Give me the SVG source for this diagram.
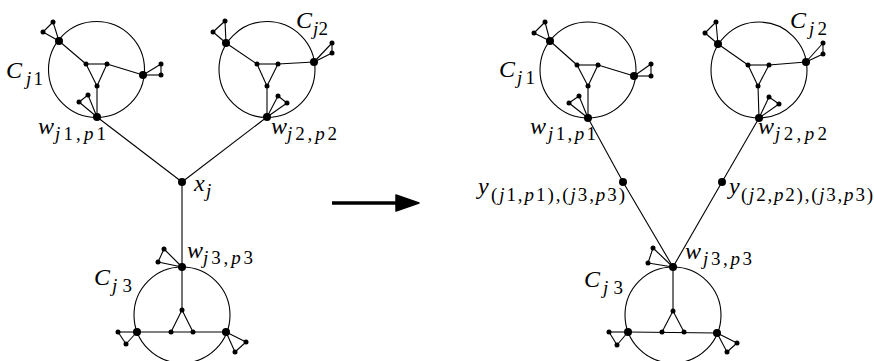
<svg xmlns="http://www.w3.org/2000/svg" width="874" height="361" viewBox="0 0 874 361">
<style>
.c{fill:none;stroke:#000;stroke-width:1.1}
.e line{stroke:#000;stroke-width:1.1}
.b{fill:#000}
.m{font-family:"Liberation Serif",serif;font-style:italic;font-size:24px;fill:#000}
.s{font-family:"Liberation Serif",serif;font-style:italic;font-size:19px;fill:#000}
.u{font-style:normal}
</style>
<rect width="874" height="361" fill="#fff"/>

<!-- cycle circles -->
<g id="cycles">
<circle class="c" cx="96.5" cy="69.5" r="48"/>
<circle class="c" cx="267" cy="69.5" r="48"/>
<circle class="c" cx="182" cy="315" r="48"/>
<circle class="c" cx="588" cy="70" r="48"/>
<circle class="c" cx="759" cy="70" r="48"/>
<circle class="c" cx="673" cy="315" r="48"/>
</g>

<g id="connectors" class="e">
<!-- left module 1 -->
<line x1="59" y1="41" x2="86" y2="64"/><line x1="86" y1="64" x2="107" y2="64"/><line x1="107" y1="64" x2="97" y2="86"/><line x1="97" y1="86" x2="86" y2="64"/>
<line x1="107" y1="64" x2="143" y2="75"/><line x1="97" y1="86" x2="97" y2="117"/>
<line x1="59" y1="41" x2="43" y2="32"/><line x1="59" y1="41" x2="53" y2="22"/><line x1="43" y1="32" x2="53" y2="22"/>
<line x1="143" y1="75" x2="161" y2="64"/><line x1="143" y1="75" x2="161" y2="75"/><line x1="161" y1="64" x2="161" y2="75"/>
<line x1="97" y1="117" x2="79" y2="102"/><line x1="97" y1="117" x2="88" y2="95"/><line x1="79" y1="102" x2="88" y2="95"/>
<!-- left module 2 -->
<line x1="226" y1="43" x2="257" y2="64"/><line x1="257" y1="64" x2="278" y2="64"/><line x1="278" y1="64" x2="267" y2="86"/><line x1="267" y1="86" x2="257" y2="64"/>
<line x1="278" y1="64" x2="314" y2="62"/><line x1="267" y1="86" x2="267" y2="117"/>
<line x1="226" y1="43" x2="213" y2="32"/><line x1="226" y1="43" x2="225" y2="21"/><line x1="213" y1="32" x2="225" y2="21"/>
<line x1="314" y1="62" x2="332" y2="43"/><line x1="314" y1="62" x2="332" y2="53"/><line x1="332" y1="43" x2="332" y2="53"/>
<line x1="267" y1="117" x2="278" y2="96"/><line x1="267" y1="117" x2="287" y2="103"/><line x1="278" y1="96" x2="287" y2="103"/>
<!-- left hub -->
<line x1="97" y1="117" x2="182" y2="182"/><line x1="267" y1="117" x2="182" y2="182"/><line x1="182" y1="182" x2="182" y2="267"/>
<!-- left module 3 -->
<line x1="182" y1="267" x2="182" y2="310"/><line x1="182" y1="310" x2="171" y2="332"/><line x1="182" y1="310" x2="193" y2="332"/>
<line x1="137" y1="332" x2="226" y2="332"/>
<line x1="137" y1="332" x2="118" y2="332"/><line x1="137" y1="332" x2="126" y2="344"/><line x1="118" y1="332" x2="126" y2="344"/>
<line x1="226" y1="332" x2="246" y2="342"/><line x1="226" y1="332" x2="235" y2="352"/><line x1="246" y1="342" x2="235" y2="352"/>
<line x1="182" y1="267" x2="158" y2="262"/><line x1="182" y1="267" x2="164" y2="249"/><line x1="158" y1="262" x2="164" y2="249"/>

<!-- right module 1 -->
<line x1="550" y1="41" x2="577" y2="65"/><line x1="577" y1="65" x2="598" y2="65"/><line x1="598" y1="65" x2="588" y2="86"/><line x1="588" y1="86" x2="577" y2="65"/>
<line x1="598" y1="65" x2="634" y2="76"/><line x1="588" y1="86" x2="588" y2="118"/>
<line x1="550" y1="41" x2="534" y2="33"/><line x1="550" y1="41" x2="545" y2="22"/><line x1="534" y1="33" x2="545" y2="22"/>
<line x1="634" y1="76" x2="651" y2="64"/><line x1="634" y1="76" x2="651" y2="76"/><line x1="651" y1="64" x2="651" y2="76"/>
<line x1="588" y1="118" x2="569" y2="103"/><line x1="588" y1="118" x2="579" y2="96"/><line x1="569" y1="103" x2="579" y2="96"/>
<!-- right module 2 -->
<line x1="718" y1="44" x2="748" y2="65"/><line x1="748" y1="65" x2="769" y2="65"/><line x1="769" y1="65" x2="758" y2="86"/><line x1="758" y1="86" x2="748" y2="65"/>
<line x1="769" y1="65" x2="806" y2="62"/><line x1="758" y1="86" x2="759" y2="118"/>
<line x1="718" y1="44" x2="705" y2="33"/><line x1="718" y1="44" x2="716" y2="22"/><line x1="705" y1="33" x2="716" y2="22"/>
<line x1="806" y1="62" x2="823" y2="43"/><line x1="806" y1="62" x2="823" y2="54"/><line x1="823" y1="43" x2="823" y2="54"/>
<line x1="759" y1="118" x2="769" y2="97"/><line x1="759" y1="118" x2="779" y2="104"/><line x1="769" y1="97" x2="779" y2="104"/>
<!-- right paths -->
<line x1="588" y1="118" x2="623" y2="182"/><line x1="623" y1="182" x2="673" y2="267"/>
<line x1="759" y1="118" x2="722" y2="182"/><line x1="722" y1="182" x2="673" y2="267"/>
<!-- right module 3 -->
<line x1="673" y1="267" x2="673" y2="311"/><line x1="673" y1="311" x2="662" y2="332"/><line x1="673" y1="311" x2="684" y2="332"/>
<line x1="628" y1="332" x2="717" y2="333"/>
<line x1="628" y1="332" x2="609" y2="332"/><line x1="628" y1="332" x2="617" y2="345"/><line x1="609" y1="332" x2="617" y2="345"/>
<line x1="717" y1="333" x2="737" y2="343"/><line x1="717" y1="333" x2="727" y2="352"/><line x1="737" y1="343" x2="727" y2="352"/>
<line x1="673" y1="267" x2="648" y2="263"/><line x1="673" y1="267" x2="653" y2="248"/><line x1="648" y1="263" x2="653" y2="248"/>
</g>

<!-- transformation arrow -->
<g id="arrow">
<line x1="332" y1="203" x2="400" y2="203" stroke="#000" stroke-width="3.5"/>
<polygon points="396,195 419,203 396,211" fill="#000" stroke="#000" stroke-width="1.5" stroke-linejoin="round"/>
</g>

<!-- left nodes -->
<g id="L-module1">
<circle class="b" cx="59" cy="41" r="4"/><circle class="b" cx="43" cy="32" r="2.5"/><circle class="b" cx="53" cy="22" r="2.5"/>
<circle class="b" cx="86" cy="64" r="2.5"/><circle class="b" cx="107" cy="64" r="2.5"/><circle class="b" cx="97" cy="86" r="2.5"/>
<circle class="b" cx="143" cy="75" r="4"/><circle class="b" cx="161" cy="64" r="2.5"/><circle class="b" cx="161" cy="75" r="2.5"/>
<circle class="b" cx="79" cy="102" r="2.5"/><circle class="b" cx="88" cy="95" r="2.5"/>
<text class="m" x="6" y="78">C</text><text class="s" x="26" y="85" textLength="17" lengthAdjust="spacing">j<tspan class="u">1</tspan></text>
</g>
<g id="L-w1">
<circle class="b" cx="97" cy="117" r="4"/>
<text class="m" x="38" y="134">w</text><text class="s" x="55" y="140" textLength="51" lengthAdjust="spacing">j<tspan class="u">1</tspan><tspan class="u">,</tspan>p<tspan class="u">1</tspan></text>
</g>
<g id="L-module2">
<circle class="b" cx="226" cy="43" r="4"/><circle class="b" cx="213" cy="32" r="2.5"/><circle class="b" cx="225" cy="21" r="2.5"/>
<circle class="b" cx="257" cy="64" r="2.5"/><circle class="b" cx="278" cy="64" r="2.5"/><circle class="b" cx="267" cy="86" r="2.5"/>
<circle class="b" cx="314" cy="62" r="4"/><circle class="b" cx="332" cy="43" r="2.5"/><circle class="b" cx="332" cy="53" r="2.5"/>
<circle class="b" cx="278" cy="96" r="2.5"/><circle class="b" cx="287" cy="103" r="2.5"/>
<text class="m" x="296" y="28">C</text><text class="s" x="313" y="35" textLength="15" lengthAdjust="spacing">j<tspan class="u">2</tspan></text>
</g>
<g id="L-w2">
<circle class="b" cx="267" cy="117" r="4"/>
<text class="m" x="271" y="134">w</text><text class="s" x="287" y="140" textLength="50" lengthAdjust="spacing">j<tspan class="u">2</tspan><tspan class="u">,</tspan>p<tspan class="u">2</tspan></text>
</g>
<g id="L-xj">
<circle class="b" cx="182" cy="182" r="4"/>
<text class="m" x="194" y="191">x</text><text class="s" x="206" y="197">j</text>
</g>
<g id="L-w3">
<circle class="b" cx="182" cy="267" r="4"/><circle class="b" cx="158" cy="262" r="2.5"/><circle class="b" cx="164" cy="249" r="2.5"/>
<text class="m" x="187" y="258">w</text><text class="s" x="203" y="264" textLength="50" lengthAdjust="spacing">j<tspan class="u">3</tspan><tspan class="u">,</tspan>p<tspan class="u">3</tspan></text>
</g>
<g id="L-module3">
<circle class="b" cx="182" cy="310" r="2.5"/><circle class="b" cx="171" cy="332" r="2.5"/><circle class="b" cx="193" cy="332" r="2.5"/>
<circle class="b" cx="137" cy="332" r="4"/><circle class="b" cx="118" cy="332" r="2.5"/><circle class="b" cx="126" cy="344" r="2.5"/>
<circle class="b" cx="226" cy="332" r="4"/><circle class="b" cx="246" cy="342" r="2.5"/><circle class="b" cx="235" cy="352" r="2.5"/>
<text class="m" x="94" y="285">C</text><text class="s" x="112" y="292" textLength="20" lengthAdjust="spacing">j<tspan class="u">3</tspan></text>
</g>

<!-- right nodes -->
<g id="R-module1">
<circle class="b" cx="550" cy="41" r="4"/><circle class="b" cx="534" cy="33" r="2.5"/><circle class="b" cx="545" cy="22" r="2.5"/>
<circle class="b" cx="577" cy="65" r="2.5"/><circle class="b" cx="598" cy="65" r="2.5"/><circle class="b" cx="588" cy="86" r="2.5"/>
<circle class="b" cx="634" cy="76" r="4"/><circle class="b" cx="651" cy="64" r="2.5"/><circle class="b" cx="651" cy="76" r="2.5"/>
<circle class="b" cx="569" cy="103" r="2.5"/><circle class="b" cx="579" cy="96" r="2.5"/>
<text class="m" x="499" y="77">C</text><text class="s" x="517" y="84" textLength="18" lengthAdjust="spacing">j<tspan class="u">1</tspan></text>
</g>
<g id="R-w1">
<circle class="b" cx="588" cy="118" r="4"/>
<text class="m" x="530" y="134">w</text><text class="s" x="548" y="140" textLength="48" lengthAdjust="spacing">j<tspan class="u">1</tspan><tspan class="u">,</tspan>p<tspan class="u">1</tspan></text>
</g>
<g id="R-module2">
<circle class="b" cx="718" cy="44" r="4"/><circle class="b" cx="705" cy="33" r="2.5"/><circle class="b" cx="716" cy="22" r="2.5"/>
<circle class="b" cx="748" cy="65" r="2.5"/><circle class="b" cx="769" cy="65" r="2.5"/><circle class="b" cx="758" cy="86" r="2.5"/>
<circle class="b" cx="806" cy="62" r="4"/><circle class="b" cx="823" cy="43" r="2.5"/><circle class="b" cx="823" cy="54" r="2.5"/>
<circle class="b" cx="769" cy="97" r="2.5"/><circle class="b" cx="779" cy="104" r="2.5"/>
<text class="m" x="790" y="28">C</text><text class="s" x="809" y="35" textLength="18" lengthAdjust="spacing">j<tspan class="u">2</tspan></text>
</g>
<g id="R-w2">
<circle class="b" cx="759" cy="118" r="4"/>
<text class="m" x="758" y="134">w</text><text class="s" x="775" y="140" textLength="52" lengthAdjust="spacing">j<tspan class="u">2</tspan><tspan class="u">,</tspan>p<tspan class="u">2</tspan></text>
</g>
<g id="R-y1">
<circle class="b" cx="623" cy="182" r="4"/>
<text class="m" x="478" y="194">y</text><text class="s" x="491" y="201" textLength="134" lengthAdjust="spacing"><tspan class="u">(</tspan>j<tspan class="u">1</tspan><tspan class="u">,</tspan>p<tspan class="u">1</tspan><tspan class="u">),(</tspan>j<tspan class="u">3</tspan><tspan class="u">,</tspan>p<tspan class="u">3</tspan><tspan class="u">)</tspan></text>
</g>
<g id="R-y2">
<circle class="b" cx="722" cy="182" r="4"/>
<text class="m" x="729" y="194">y</text><text class="s" x="741" y="201" textLength="132" lengthAdjust="spacing"><tspan class="u">(</tspan>j<tspan class="u">2</tspan><tspan class="u">,</tspan>p<tspan class="u">2</tspan><tspan class="u">),(</tspan>j<tspan class="u">3</tspan><tspan class="u">,</tspan>p<tspan class="u">3</tspan><tspan class="u">)</tspan></text>
</g>
<g id="R-w3">
<circle class="b" cx="673" cy="267" r="4"/><circle class="b" cx="648" cy="263" r="2.5"/><circle class="b" cx="653" cy="248" r="2.5"/>
<text class="m" x="685" y="259">w</text><text class="s" x="703" y="265" textLength="49" lengthAdjust="spacing">j<tspan class="u">3</tspan><tspan class="u">,</tspan>p<tspan class="u">3</tspan></text>
</g>
<g id="R-module3">
<circle class="b" cx="673" cy="311" r="2.5"/><circle class="b" cx="662" cy="332" r="2.5"/><circle class="b" cx="684" cy="332" r="2.5"/>
<circle class="b" cx="628" cy="332" r="4"/><circle class="b" cx="609" cy="332" r="2.5"/><circle class="b" cx="617" cy="345" r="2.5"/>
<circle class="b" cx="717" cy="333" r="4"/><circle class="b" cx="737" cy="343" r="2.5"/><circle class="b" cx="727" cy="352" r="2.5"/>
<text class="m" x="584" y="287">C</text><text class="s" x="603" y="294" textLength="20" lengthAdjust="spacing">j<tspan class="u">3</tspan></text>
</g>
</svg>
